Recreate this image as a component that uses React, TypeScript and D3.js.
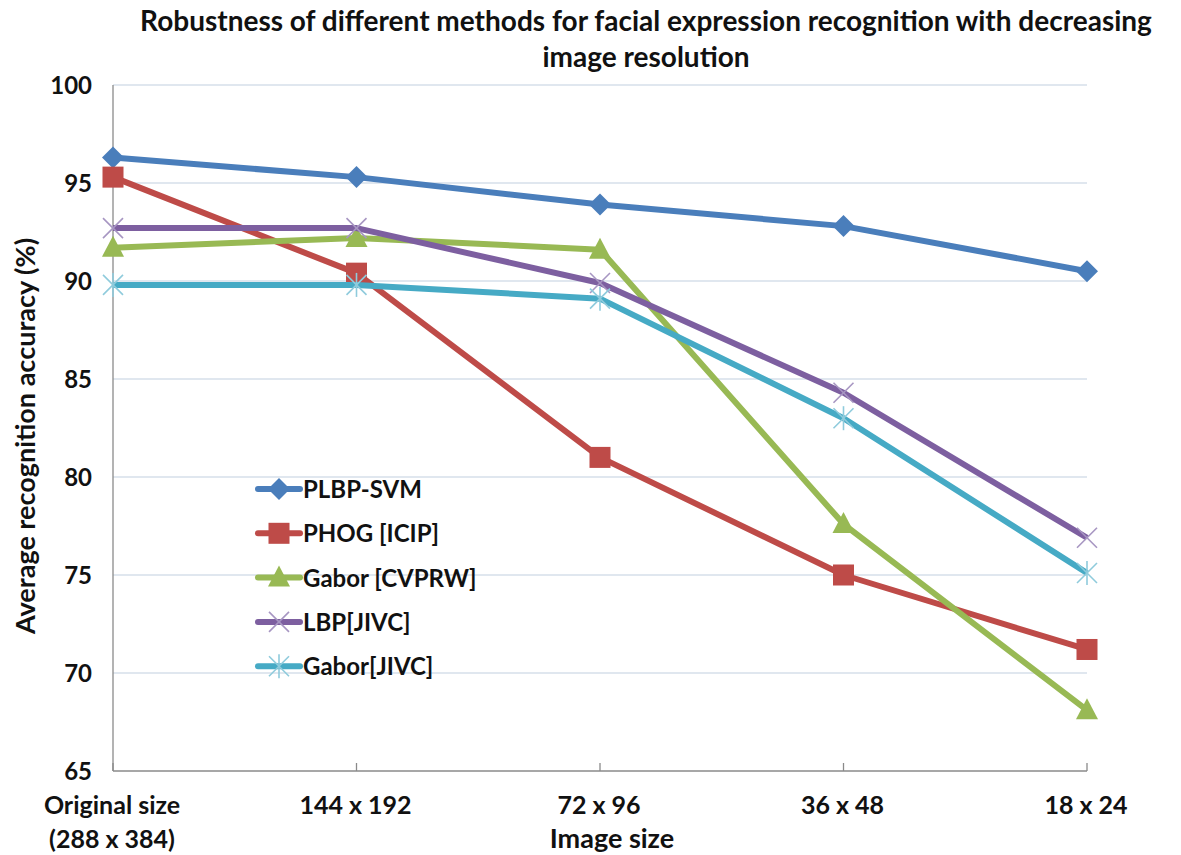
import React from "react";
import * as d3 from "d3";

// chart data
const categories = ["Original size|(288 x 384)", "144 x 192", "72 x 96", "36 x 48", "18 x 24"];
const seriesNames = ["PLBP-SVM", "PHOG [ICIP]", "Gabor [CVPRW]", "LBP[JIVC]", "Gabor[JIVC]"];
const plbpSvm = [96.3, 95.3, 93.9, 92.8, 90.5];
const phogIcip = [95.3, 90.4, 81.0, 75.0, 71.2];
const gaborCvprw = [91.7, 92.2, 91.6, 77.6, 68.1];
const lbpJivc = [92.7, 92.7, 89.9, 84.3, 76.9];
const gaborJivc = [89.8, 89.8, 89.1, 83.0, 75.1];
const yTicks = [65, 70, 75, 80, 85, 90, 95, 100];

const colors = ["#4a7ebb", "#be4b48", "#98b954", "#7d5fa0", "#46aac5"];
const markerColors = ["#4a7ebb", "#be4b48", "#98b954", "#a796c2", "#8fcbdc"];
const markers = ["diamond", "square", "triangle", "x", "star"];

const W = 1181, H = 855;
const M = { left: 113, right: 94, top: 85, bottom: 84 };
const FONT = "Lato, 'Open Sans', sans-serif";

const Marker = ({ kind, x, y, color }: any) => {
  if (kind === "diamond") {
    return <path d={`M${x},${y - 11}L${x + 11},${y}L${x},${y + 11}L${x - 11},${y}Z`} fill={color} />;
  }
  if (kind === "square") {
    return <rect x={x - 10.5} y={y - 10.5} width={21} height={21} fill={color} />;
  }
  if (kind === "triangle") {
    return <path d={`M${x},${y - 12}L${x + 11},${y + 9}L${x - 11},${y + 9}Z`} fill={color} />;
  }
  if (kind === "x") {
    return (
      <g stroke={color} strokeWidth={1.6}>
        <line x1={x - 10} y1={y - 10} x2={x + 10} y2={y + 10} />
        <line x1={x - 10} y1={y + 10} x2={x + 10} y2={y - 10} />
      </g>
    );
  }
  return (
    <g stroke={color} strokeWidth={1.6}>
      <line x1={x - 10} y1={y - 10} x2={x + 10} y2={y + 10} />
      <line x1={x - 10} y1={y + 10} x2={x + 10} y2={y - 10} />
      <line x1={x} y1={y - 12} x2={x} y2={y + 12} />
    </g>
  );
};

export default function App() {
  const series = [plbpSvm, phogIcip, gaborCvprw, lbpJivc, gaborJivc];
  const x = d3.scalePoint<number>().domain(d3.range(categories.length)).range([M.left, W - M.right]);
  const y = d3.scaleLinear().domain([65, 100]).range([H - M.bottom, M.top]);
  const line = d3.line<number>().x((_, i) => x(i) as number).y((d) => y(d));

  const legendX = 258, legendY = 489, legendGap = 44.3;

  return (
    <svg width={W} height={H} style={{ position: "absolute", left: 0, top: 0, background: "#fff" }}>
      {/* title */}
      <g fontFamily={FONT} fontWeight="bold" fontSize={28} fill="#111" textAnchor="middle">
        <text x={646} y={31}>Robustness of different methods for facial expression recognition with decreasing</text>
        <text x={646} y={67}>image resolution</text>
      </g>

      {/* gridlines */}
      {yTicks.filter((t) => t > 65).map((t) => (
        <line key={t} x1={M.left} x2={W - M.right} y1={y(t)} y2={y(t)} stroke="#d6dfea" strokeWidth={1.3} />
      ))}

      {/* axes */}
      <line x1={M.left} x2={M.left} y1={M.top} y2={H - M.bottom} stroke="#8a8a8a" strokeWidth={1.3} />
      <line x1={M.left} x2={W - M.right} y1={H - M.bottom} y2={H - M.bottom} stroke="#8a8a8a" strokeWidth={1.3} />
      {categories.map((_, i) => (
        <line key={i} x1={x(i)} x2={x(i)} y1={H - M.bottom} y2={H - M.bottom - 8} stroke="#8a8a8a" strokeWidth={1.3} />
      ))}

      {/* y tick labels */}
      <g fontFamily={FONT} fontWeight="bold" fontSize={24} fill="#111" textAnchor="end">
        {yTicks.map((t) => (
          <text key={t} x={92} y={y(t) + 9}>{t}</text>
        ))}
      </g>

      {/* x tick labels */}
      <g fontFamily={FONT} fontWeight="bold" fontSize={25} fill="#111" textAnchor="middle">
        {categories.map((c, i) => {
          const parts = c.split("|");
          return parts.map((p, k) => (
            <text key={i + "-" + k} x={(x(i) as number) - 1} y={814 + k * 34}>{p}</text>
          ));
        })}
      </g>

      {/* axis titles */}
      <text x={612} y={848} fontFamily={FONT} fontWeight="bold" fontSize={27} fill="#111" textAnchor="middle">Image size</text>
      <text transform={`translate(35,436) rotate(-90)`} fontFamily={FONT} fontWeight="bold" fontSize={27} fill="#111" textAnchor="middle">
        Average recognition accuracy (%)
      </text>

      {/* series */}
      {series.map((s, si) => (
        <g key={si}>
          <path d={line(s) as string} fill="none" stroke={colors[si]} strokeWidth={6} strokeLinejoin="round" />
          {s.map((v, i) => (
            <Marker key={i} kind={markers[si]} x={x(i)} y={y(v)} color={markerColors[si]} />
          ))}
        </g>
      ))}

      {/* legend */}
      {seriesNames.map((n, si) => {
        const ly = legendY + si * legendGap;
        return (
          <g key={n}>
            <line x1={legendX} x2={legendX + 42} y1={ly} y2={ly} stroke={colors[si]} strokeWidth={6} strokeLinecap="round" />
            <Marker kind={markers[si]} x={legendX + 21} y={ly} color={markerColors[si]} />
            <text x={legendX + 45} y={ly + 9} fontFamily={FONT} fontWeight="bold" fontSize={24} fill="#111">{n}</text>
          </g>
        );
      })}
    </svg>
  );
}
